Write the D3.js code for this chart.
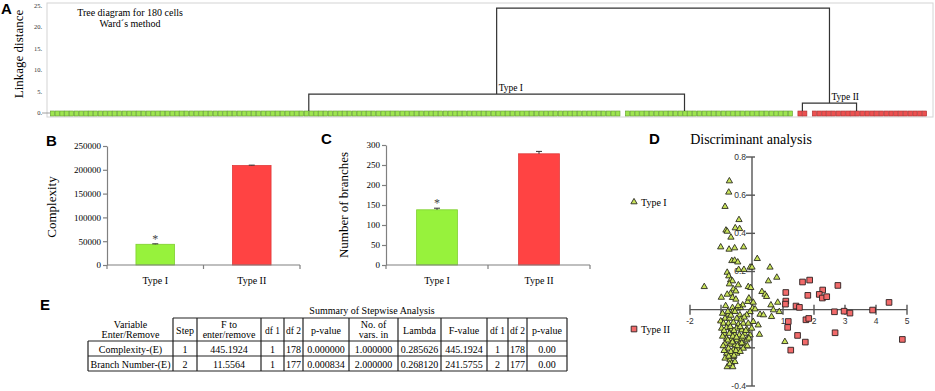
<!DOCTYPE html>
<html>
<head>
<meta charset="utf-8">
<script src="https://cdn.jsdelivr.net/npm/d3@7"></script>
<style>
  body { margin: 0; background: #fff; }
</style>
</head>
<body>
<script>
// ---- data ----
// A: dendrogram (leaf groups left to right, merges in leaf-slot units)
const leafGroupSizes = [119, 35, 2, 24];
const leafGroupTypes = ["Type I", "Type I", "Type II", "Type II"];
const linkageTicks = [0, 5, 10, 15, 20, 25];
const clusterNames = ["Type I", "Type II"];
const clusterLeft = [54, 157];
const clusterRight = [132.4, 168.3];
const clusterHeight = [4.4, 2.3];
const rootHeight = 24.4;

// B, C: bar charts
const groups = ["Type I", "Type II"];
const complexityMean = [43500, 209000];
const complexityErr = [1000, 800];
const complexityTicks = [0, 50000, 100000, 150000, 200000, 250000];
const branchMean = [138, 278];
const branchErr = [4, 6];
const branchTicks = [0, 50, 100, 150, 200, 250, 300];

// D: discriminant analysis scores
const typeIPoints = [
  [-0.73,0.674],[-0.75,0.615],[-0.87,0.54],[-0.42,0.471],[-0.84,0.416],[-0.80,0.41],[-0.54,0.428],
  [-0.40,0.424],[-0.68,0.379],[-1.01,0.328],[-0.74,0.316],[-0.56,0.323],[-0.27,0.328],[0.17,0.267],
  [-0.65,0.256],[-0.56,0.258],[-0.46,0.249],[-0.06,0.222],[0.0,0.222],[0.58,0.222],[-0.43,0.21],[-0.26,0.21],
  [-0.80,0.195],[-0.75,0.176],[-0.69,0.155],[-0.63,0.150],[-0.73,0.134],[-0.44,0.129],[-0.12,0.120],
  [-0.04,0.115],[0.53,0.150],[0.80,0.169],[-1.54,0.120],[-0.60,0.108],[-0.52,0.097],[-0.69,0.085],
  [-0.99,0.064],[-0.63,0.063],[-0.52,0.054],[0.32,0.094],[0.42,0.080],[0.47,0.068],[-0.14,0.042],
  [0.04,0.038],[0.61,0.024],[0.83,0.038],[-0.30,0.024],
  [-0.63,0.010],[-0.47,0.007],[-0.37,0.010],[0.02,0.007],[-0.06,-0.011],[0.10,0.003],[0.26,-0.025],
  [0.69,-0.002],[0.88,-0.011],[0.63,-0.037],[0.37,-0.028],[-0.62,-0.011],[-0.76,-0.025],[-0.39,-0.028],
  [-0.17,-0.028],[-0.87,-0.046],[-1.01,-0.060],[-0.73,-0.046],[-0.49,-0.046],
  [-0.92,-0.072],[-0.76,-0.072],[-0.60,-0.067],[-0.44,-0.077],[-0.28,-0.072],[-0.12,-0.072],[0.04,-0.063],
  [0.20,-0.081],[-0.98,-0.098],[-0.82,-0.095],[-0.66,-0.102],[-0.49,-0.098],[-0.33,-0.107],[-0.17,-0.102],
  [-0.01,-0.098],[0.24,-0.130],[-0.90,-0.125],[-0.73,-0.125],[-0.56,-0.130],[-0.41,-0.133],[-0.24,-0.125],
  [-0.06,-0.133],[-0.82,-0.151],[-0.66,-0.154],[-0.49,-0.159],[-0.33,-0.151],[-0.17,-0.159],[-0.87,-0.177],
  [-0.71,-0.182],[-0.55,-0.186],[-0.39,-0.179],[-0.23,-0.189],[-0.76,-0.203],[-0.60,-0.212],[-0.44,-0.207],
  [-0.28,-0.203],[-0.82,-0.229],[-0.66,-0.234],[-0.49,-0.229],[1.06,-0.168],[-0.87,-0.255],[-0.71,-0.264],
  [-0.60,-0.247],[-0.66,-0.282],[-0.55,-0.273],
  [-0.95,-0.02],[-0.85,0.02],[-0.78,-0.01],[-0.68,-0.03],[-0.55,-0.01],[-0.45,0.02],[-0.35,-0.05],
  [-0.25,-0.04],[-0.90,-0.11],[-0.70,-0.09],[-0.58,-0.11],[-0.38,-0.09],[-0.20,-0.11],[-0.95,-0.14],
  [-0.62,-0.14],[-0.50,-0.145],[-0.30,-0.14],[-0.10,-0.15],[-0.93,-0.19],[-0.78,-0.16],[-0.63,-0.17],
  [-0.47,-0.19],[-0.33,-0.175],[-0.15,-0.19],[-0.90,-0.215],[-0.68,-0.22],[-0.52,-0.215],[-0.38,-0.22],
  [-0.75,-0.245],[-0.58,-0.24],[-0.80,-0.30],[-0.72,-0.285],[-0.62,-0.30],[-0.10,0.06],[-0.80,0.08]
];
const typeIIPoints = [
  [1.63,0.145],[1.86,0.155],[1.09,0.090],[2.77,0.127],[2.28,0.103],[2.17,0.080],[2.27,0.061],
  [2.41,0.068],[1.80,0.075],[1.09,0.045],[1.08,0.029],[1.42,0.019],[1.53,0.012],[4.42,0.038],
  [2.66,-0.011],[2.97,-0.008],[3.16,-0.018],[3.89,-0.002],[1.17,-0.062],[1.74,-0.053],[1.83,-0.046],
  [1.15,-0.093],[1.47,-0.135],[2.68,-0.121],[1.72,-0.170],[4.85,-0.156],[1.25,-0.212]
];
const discXTicks = [-2, -1, 0, 1, 2, 3, 4, 5];
const discXLabels = [-2, -1, 1, 2, 3, 4, 5];
const discYTicks = [0.8, 0.6, 0.4, 0.2, -0.2, -0.4];
const discYLabels = [0.8, 0.6, 0.4, 0.2, -0.4];

// E: stepwise table
const tableTitle = "Summary of Stepwise Analysis";
const tableHeader = [["Variable", "Enter/Remove"], ["Step"], ["F to", "enter/remove"], ["df 1"], ["df 2"],
  ["p-value"], ["No. of", "vars. in"], ["Lambda"], ["F-value"], ["df 1"], ["df 2"], ["p-value"]];
const tableRows = [
  ["Complexity-(E)", "1", "445.1924", "1", "178", "0.000000", "1.000000", "0.285626", "445.1924", "1", "178", "0.00"],
  ["Branch Number-(E)", "2", "11.5564", "1", "177", "0.000834", "2.000000", "0.268120", "241.5755", "2", "177", "0.00"]
];

// ---- drawing ----
const serif = "'Liberation Serif','Times New Roman',serif";
const sans = "'Liberation Sans',Arial,sans-serif";
const green = "#97f23c", red = "#ff4343";

const svg = d3.select("body").append("svg")
  .attr("width", 935).attr("height", 391)
  .style("font-family", serif);

function panelLetter(t, x, y) {
  svg.append("text").attr("x", x).attr("y", y).text(t)
    .attr("font-family", sans).attr("font-weight", "bold").attr("font-size", 15);
}

// ---------- A ----------
panelLetter("A", 1, 14);
svg.append("rect").attr("x", 47).attr("y", 3).attr("width", 886).attr("height", 114)
  .attr("fill", "none").attr("stroke", "#d4d4d4");

const slotCount = d3.sum(leafGroupSizes) + leafGroupSizes.length - 1;
const xLeaf = d3.scaleLinear().domain([0, slotCount]).range([50, 927]);
const yLink = d3.scaleLinear().domain([0, 25]).range([113, 5.5]);

const leaves = [];
let slot = 0;
leafGroupSizes.forEach((n, gi) => {
  for (let k = 0; k < n; k++) leaves.push({ slot: slot + k, type: leafGroupTypes[gi] });
  slot += n + 1;
});
const leafW = xLeaf(1) - xLeaf(0);
svg.append("g").selectAll("rect").data(leaves).enter().append("rect")
  .attr("x", d => xLeaf(d.slot) + 0.3)
  .attr("y", yLink(0) - 2)
  .attr("width", leafW - 0.6)
  .attr("height", 5)
  .attr("fill", d => d.type === "Type I" ? "#9ee550" : "#ec5050")
  .attr("stroke", d => d.type === "Type I" ? "#5f9a2c" : "#a83030")
  .attr("stroke-width", 0.6);

svg.append("g").selectAll("text").data(linkageTicks).enter().append("text")
  .attr("x", 42).attr("y", d => yLink(d) + 2)
  .attr("text-anchor", "end").attr("font-size", 6.5).attr("fill", "#333")
  .text(d => d + ".");
svg.append("line").attr("x1", 42).attr("x2", 50).attr("y1", yLink(0)).attr("y2", yLink(0))
  .attr("stroke", "#888").attr("stroke-width", 0.8);

const leafTop = yLink(0) - 2;
const dendro = svg.append("g").attr("fill", "none").attr("stroke", "#333").attr("stroke-width", 1.2);
clusterNames.forEach((name, i) => {
  const xl = xLeaf(clusterLeft[i]), xr = xLeaf(clusterRight[i]), yh = yLink(clusterHeight[i]);
  dendro.append("path").attr("d", `M${xl},${leafTop}V${yh}H${xr}V${leafTop}`);
});
const mid = clusterNames.map((n, i) => (clusterLeft[i] + clusterRight[i]) / 2);
dendro.append("path").attr("d",
  `M${xLeaf(mid[0])},${yLink(clusterHeight[0])}V${yLink(rootHeight)}H${xLeaf(mid[1])}V${yLink(clusterHeight[1])}`);
clusterNames.forEach((name, i) => {
  svg.append("text").attr("x", xLeaf(mid[i]) + 2).attr("y", yLink(clusterHeight[i]) - 3)
    .attr("font-size", 9.5).text(name);
});

svg.append("text").attr("transform", "translate(18,54) rotate(-90)")
  .attr("text-anchor", "middle").attr("dy", "0.35em").attr("font-size", 13).text("Linkage distance");
svg.append("text").attr("x", 130).attr("y", 16).attr("text-anchor", "middle").attr("font-size", 10)
  .text("Tree diagram for 180 cells");
svg.append("text").attr("x", 130).attr("y", 27).attr("text-anchor", "middle").attr("font-size", 10)
  .text("Ward\u00b4s method");

// ---------- B, C ----------
function barPanel(cfg) {
  const x = d3.scaleBand().domain(groups).range([cfg.x0, cfg.x1]).paddingInner(0.6).paddingOuter(0.3);
  const y = d3.scaleLinear().domain([0, cfg.max]).range([265, cfg.yTop]);
  const g = svg.append("g");

  g.selectAll("rect").data(groups).enter().append("rect")
    .attr("x", d => x(d)).attr("width", x.bandwidth())
    .attr("y", (d, i) => y(cfg.values[i]))
    .attr("height", (d, i) => y(0) - y(cfg.values[i]))
    .attr("fill", (d, i) => i === 0 ? green : red)
    .attr("stroke", (d, i) => i === 0 ? "#7fd02e" : "#e03a3a").attr("stroke-width", 0.8);

  groups.forEach((d, i) => {
    const cx = x(d) + x.bandwidth() / 2;
    const y0 = y(cfg.values[i]), y1 = y(cfg.values[i] + cfg.errs[i]);
    g.append("path").attr("d", `M${cx},${y0}V${y1}M${cx - 3},${y1}H${cx + 3}`)
      .attr("stroke", "#333").attr("stroke-width", 1).attr("fill", "none");
  });

  g.append("g").attr("transform", `translate(${cfg.x0},0)`)
    .call(d3.axisLeft(y).tickValues(cfg.ticks).tickSize(4).tickSizeOuter(0).tickFormat(d3.format("d")))
    .call(a => {
      a.select(".domain").attr("stroke", "#808080").attr("stroke-width", 1.2);
      a.selectAll(".tick line").attr("stroke", "#808080").attr("stroke-width", 1.2);
      a.selectAll("text").attr("font-family", serif).attr("font-size", 9).attr("fill", "#000").attr("x", -6);
    });

  const edges = [cfg.x0, (x(groups[0]) + x.bandwidth() + x(groups[1])) / 2, cfg.x1];
  g.append("line").attr("x1", cfg.x0).attr("x2", cfg.x1).attr("y1", y(0)).attr("y2", y(0))
    .attr("stroke", "#808080").attr("stroke-width", 1.2);
  g.selectAll(".xt").data(edges).enter().append("line")
    .attr("x1", d => d).attr("x2", d => d).attr("y1", y(0)).attr("y2", y(0) + 4)
    .attr("stroke", "#808080").attr("stroke-width", 1.2);

  g.selectAll(".cat").data(groups).enter().append("text")
    .attr("x", d => x(d) + x.bandwidth() / 2).attr("y", 284)
    .attr("text-anchor", "middle").attr("font-size", 10).text(d => d);

  g.append("text")
    .attr("x", x(groups[0]) + x.bandwidth() / 2)
    .attr("y", y(cfg.values[0] + cfg.errs[0]) - 1)
    .attr("text-anchor", "middle").attr("font-size", 12).attr("fill", "#444").text("*");

  g.append("text").attr("transform", `translate(${cfg.labelX},${cfg.labelY}) rotate(-90)`)
    .attr("text-anchor", "middle").attr("dy", "0.35em").attr("font-size", 13).text(cfg.label);
}

panelLetter("B", 46, 146);
barPanel({ x0: 107, x1: 300, yTop: 146, max: 250000, values: complexityMean, errs: complexityErr,
  ticks: complexityTicks, label: "Complexity", labelX: 51, labelY: 207 });

panelLetter("C", 321, 144);
barPanel({ x0: 386, x1: 590, yTop: 145, max: 300, values: branchMean, errs: branchErr,
  ticks: branchTicks, label: "Number of branches", labelX: 343, labelY: 205 });

// ---------- D ----------
panelLetter("D", 649, 144);
svg.append("text").attr("x", 751).attr("y", 144).attr("text-anchor", "middle")
  .attr("font-size", 14).text("Discriminant analysis");

const xd = d3.scaleLinear().domain([-2, 5]).range([690, 907]);
const yd = d3.scaleLinear().domain([-0.4, 0.8]).range([386, 157]);
const axisCol = "#555";
const dAx = svg.append("g").attr("stroke", axisCol).attr("stroke-width", 1.4);
dAx.append("line").attr("x1", xd(-2)).attr("x2", xd(5)).attr("y1", yd(0)).attr("y2", yd(0));
dAx.append("line").attr("x1", xd(0)).attr("x2", xd(0)).attr("y1", yd(0.8)).attr("y2", yd(-0.4));
dAx.selectAll(".xt").data(discXTicks).enter().append("line")
  .attr("x1", d => xd(d)).attr("x2", d => xd(d)).attr("y1", yd(0) - 5).attr("y2", yd(0) + 5);
dAx.selectAll(".yt").data(discYTicks).enter().append("line")
  .attr("x1", xd(0) - 6).attr("x2", xd(0) + 3).attr("y1", d => yd(d)).attr("y2", d => yd(d));

svg.append("g").selectAll("text").data(discXLabels).enter().append("text")
  .attr("x", d => xd(d)).attr("y", yd(0) + 14).attr("text-anchor", "middle")
  .attr("font-family", sans).attr("font-size", 8.5).attr("fill", "#333").text(d => d);
svg.append("g").selectAll("text").data(discYLabels).enter().append("text")
  .attr("x", xd(0) - 6).attr("y", d => yd(d)).attr("dy", "0.35em").attr("text-anchor", "end")
  .attr("font-family", sans).attr("font-size", 8.5).attr("fill", "#333").text(d => d);

const tri = d3.symbol().type(d3.symbolTriangle).size(17);
const sq = d3.symbol().type(d3.symbolSquare).size(32);
svg.append("g").selectAll("path").data(typeIPoints).enter().append("path")
  .attr("transform", d => `translate(${xd(d[0])},${yd(d[1])})`)
  .attr("d", tri).attr("fill", "#c9e45a").attr("stroke", "#2a2a20").attr("stroke-width", 0.9);
svg.append("g").selectAll("path").data(typeIIPoints).enter().append("path")
  .attr("transform", d => `translate(${xd(d[0])},${yd(d[1])})`)
  .attr("d", sq).attr("fill", "#f26a6a").attr("stroke", "#2a2020").attr("stroke-width", 0.9);

svg.append("path").attr("transform", "translate(634,202)").attr("d", tri)
  .attr("fill", "#c9e45a").attr("stroke", "#2a2a20").attr("stroke-width", 0.9);
svg.append("text").attr("x", 641).attr("y", 205.5).attr("font-size", 10).text("Type I");
svg.append("path").attr("transform", "translate(634,329)").attr("d", sq)
  .attr("fill", "#f26a6a").attr("stroke", "#2a2020").attr("stroke-width", 0.9);
svg.append("text").attr("x", 641).attr("y", 332.5).attr("font-size", 10).text("Type II");

// ---------- E ----------
panelLetter("E", 40, 310);
const colEdges = [88, 173, 197, 261, 284, 303, 349, 398, 441, 487, 508, 527, 567];
const rowEdges = [318, 341, 356, 371];
const tbl = svg.append("g");
tbl.append("text").attr("x", 372).attr("y", 314).attr("text-anchor", "middle")
  .attr("font-size", 10).text(tableTitle);

const grid = tbl.append("g").attr("stroke", "#222").attr("stroke-width", 1.2);
rowEdges.forEach((ry, i) => {
  grid.append("line").attr("x1", i === 0 ? colEdges[1] : colEdges[0]).attr("x2", colEdges[colEdges.length - 1])
    .attr("y1", ry).attr("y2", ry);
});
colEdges.forEach((cx, i) => {
  grid.append("line").attr("x1", cx).attr("x2", cx)
    .attr("y1", i === 0 ? rowEdges[1] : rowEdges[0]).attr("y2", rowEdges[rowEdges.length - 1]);
});

const colMid = i => (colEdges[i] + colEdges[i + 1]) / 2;
tableHeader.forEach((lines, i) => {
  lines.forEach((t, k) => {
    const yy = lines.length === 1 ? 333.5 : (k === 0 ? 327.5 : 338);
    tbl.append("text").attr("x", colMid(i)).attr("y", yy).attr("text-anchor", "middle")
      .attr("font-size", t.startsWith("df") ? 9.5 : 10).text(t);
  });
});
tableRows.forEach((row, r) => {
  row.forEach((t, i) => {
    tbl.append("text").attr("x", colMid(i)).attr("y", rowEdges[r + 1] + 11.5)
      .attr("text-anchor", "middle").attr("font-size", 10).text(t);
  });
});
</script>
</body>
</html>
